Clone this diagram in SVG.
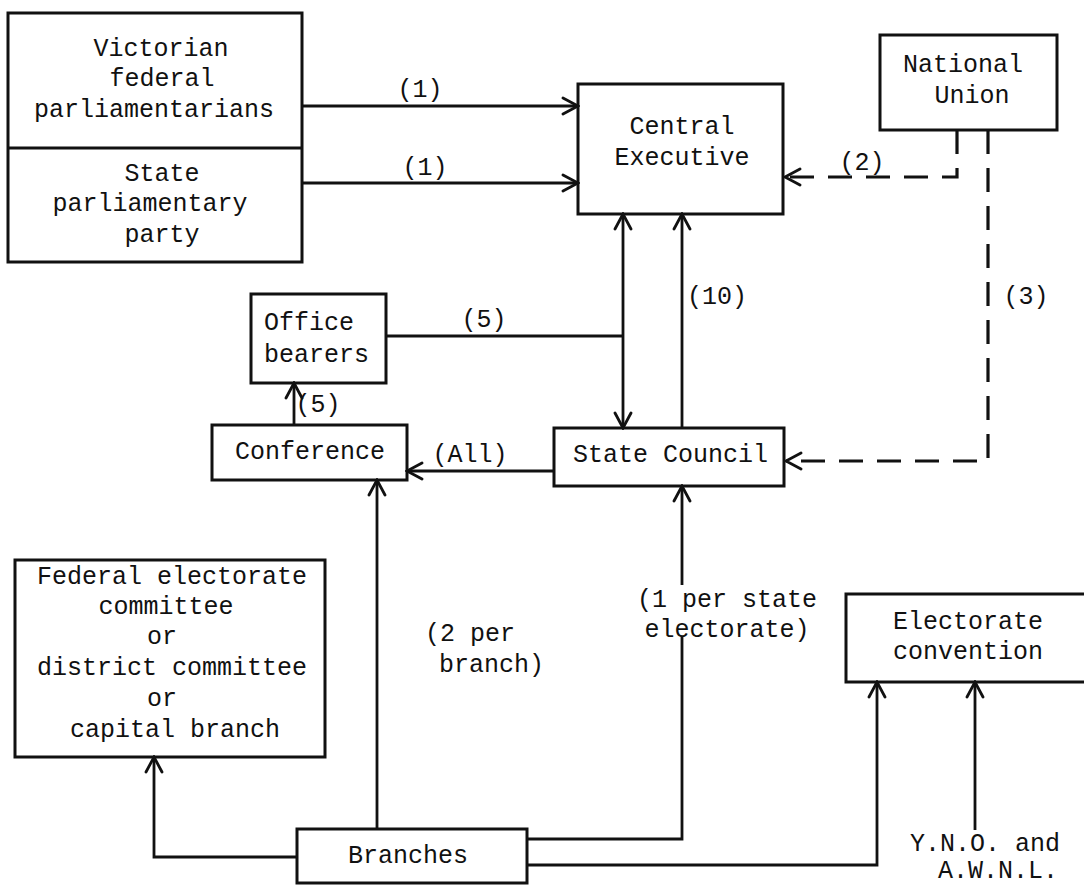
<svg xmlns="http://www.w3.org/2000/svg" width="1084" height="886" viewBox="0 0 1084 886">
<defs>
<marker id="ah" viewBox="-18 -10 20 20" markerWidth="20" markerHeight="20" refX="0" refY="0" orient="auto-start-reverse" markerUnits="userSpaceOnUse">
<path d="M-15,-8 L0,0 L-15,8" fill="none" stroke="#111" stroke-width="2.8" stroke-linecap="round"/>
</marker>
<style>
text{font-family:"Liberation Mono","DejaVu Sans Mono",monospace;font-size:25px;fill:#111}
.m{text-anchor:middle}
.box{fill:none;stroke:#111;stroke-width:3}
.ln{fill:none;stroke:#111;stroke-width:2.8}
.ar{marker-end:url(#ah)}
.dash{stroke-dasharray:24 14;stroke-width:3.2}
</style>
</defs>
<rect width="1084" height="886" fill="#fff"/>
<g id="edges">
<path class="ln ar" d="M302,106 H578"/>
<path class="ln ar" d="M302,183 H578"/>
<path class="ln dash ar" d="M957,130 V177 H785"/>
<path class="ln dash ar" d="M988,130 V461 H786"/>
<path class="ln ar" d="M623,428 V214" style="marker-start:url(#ah)"/>
<path class="ln ar" d="M682,428 V214"/>
<path class="ln" d="M386,336 H623"/>
<path class="ln ar" d="M294,425 V383"/>
<path class="ln ar" d="M554,471 H407"/>
<path class="ln ar" d="M297,857 H154 V757"/>
<path class="ln ar" d="M377,829 V480"/>
<path class="ln" d="M527,839 H682 V637"/>
<path class="ln ar" d="M682,585 V486"/>
<path class="ln ar" d="M527,865 H877 V682"/>
<path class="ln ar" d="M975,830 V682"/>
<text class="m" x="420" y="97">(1)</text>
<text class="m" x="425" y="175">(1)</text>
<text class="m" x="862" y="170">(2)</text>
<text class="m" x="1026" y="304">(3)</text>
<text class="m" x="717" y="304">(10)</text>
<text class="m" x="484" y="327">(5)</text>
<text class="m" x="318" y="412">(5)</text>
<text class="m" x="470" y="462">(All)</text>
<text x="425" y="641">(2 per</text>
<text x="439" y="672">branch)</text>
<text class="m" x="727" y="607">(1 per state</text>
<text class="m" x="727" y="637">electorate)</text>
<text x="910" y="851">Y.N.O. and</text>
<text x="938" y="878">A.W.N.L.</text>
</g>
<g id="parl">
<rect class="box" x="8" y="13" width="294" height="249"/>
<path class="ln" style="stroke-width:3" d="M8,148 H302"/>
<text class="m" x="161" y="56">Victorian</text>
<text class="m" x="162" y="86">federal</text>
<text class="m" x="154" y="117">parliamentarians</text>
<text class="m" x="162" y="181">State</text>
<text class="m" x="150" y="211">parliamentary</text>
<text class="m" x="162" y="242">party</text>
</g>
<g id="central-executive">
<rect class="box" x="578" y="84" width="205" height="130"/>
<text class="m" x="682" y="134">Central</text>
<text class="m" x="682" y="165">Executive</text>
</g>
<g id="national-union">
<rect class="box" x="880" y="35" width="177" height="95"/>
<text class="m" x="963" y="72">National</text>
<text class="m" x="972" y="103">Union</text>
</g>
<g id="office-bearers">
<rect class="box" x="251" y="294" width="135" height="89"/>
<text x="264" y="330">Office</text>
<text x="264" y="362">bearers</text>
</g>
<g id="conference">
<rect class="box" x="212" y="425" width="195" height="55"/>
<text class="m" x="310" y="459">Conference</text>
</g>
<g id="state-council">
<rect class="box" x="554" y="428" width="230" height="58"/>
<text x="573" y="462">State Council</text>
</g>
<g id="federal-electorate">
<rect class="box" x="15" y="560" width="310" height="197"/>
<text class="m" x="172" y="584">Federal electorate</text>
<text class="m" x="166" y="614">committee</text>
<text class="m" x="162" y="644">or</text>
<text class="m" x="172" y="675">district committee</text>
<text class="m" x="162" y="706">or</text>
<text class="m" x="175" y="737">capital branch</text>
</g>
<g id="electorate-convention">
<rect class="box" x="846" y="594" width="250" height="88"/>
<text class="m" x="968" y="629">Electorate</text>
<text class="m" x="968" y="659">convention</text>
</g>
<g id="branches">
<rect class="box" x="297" y="829" width="230" height="54"/>
<text class="m" x="408" y="863">Branches</text>
</g>
</svg>
